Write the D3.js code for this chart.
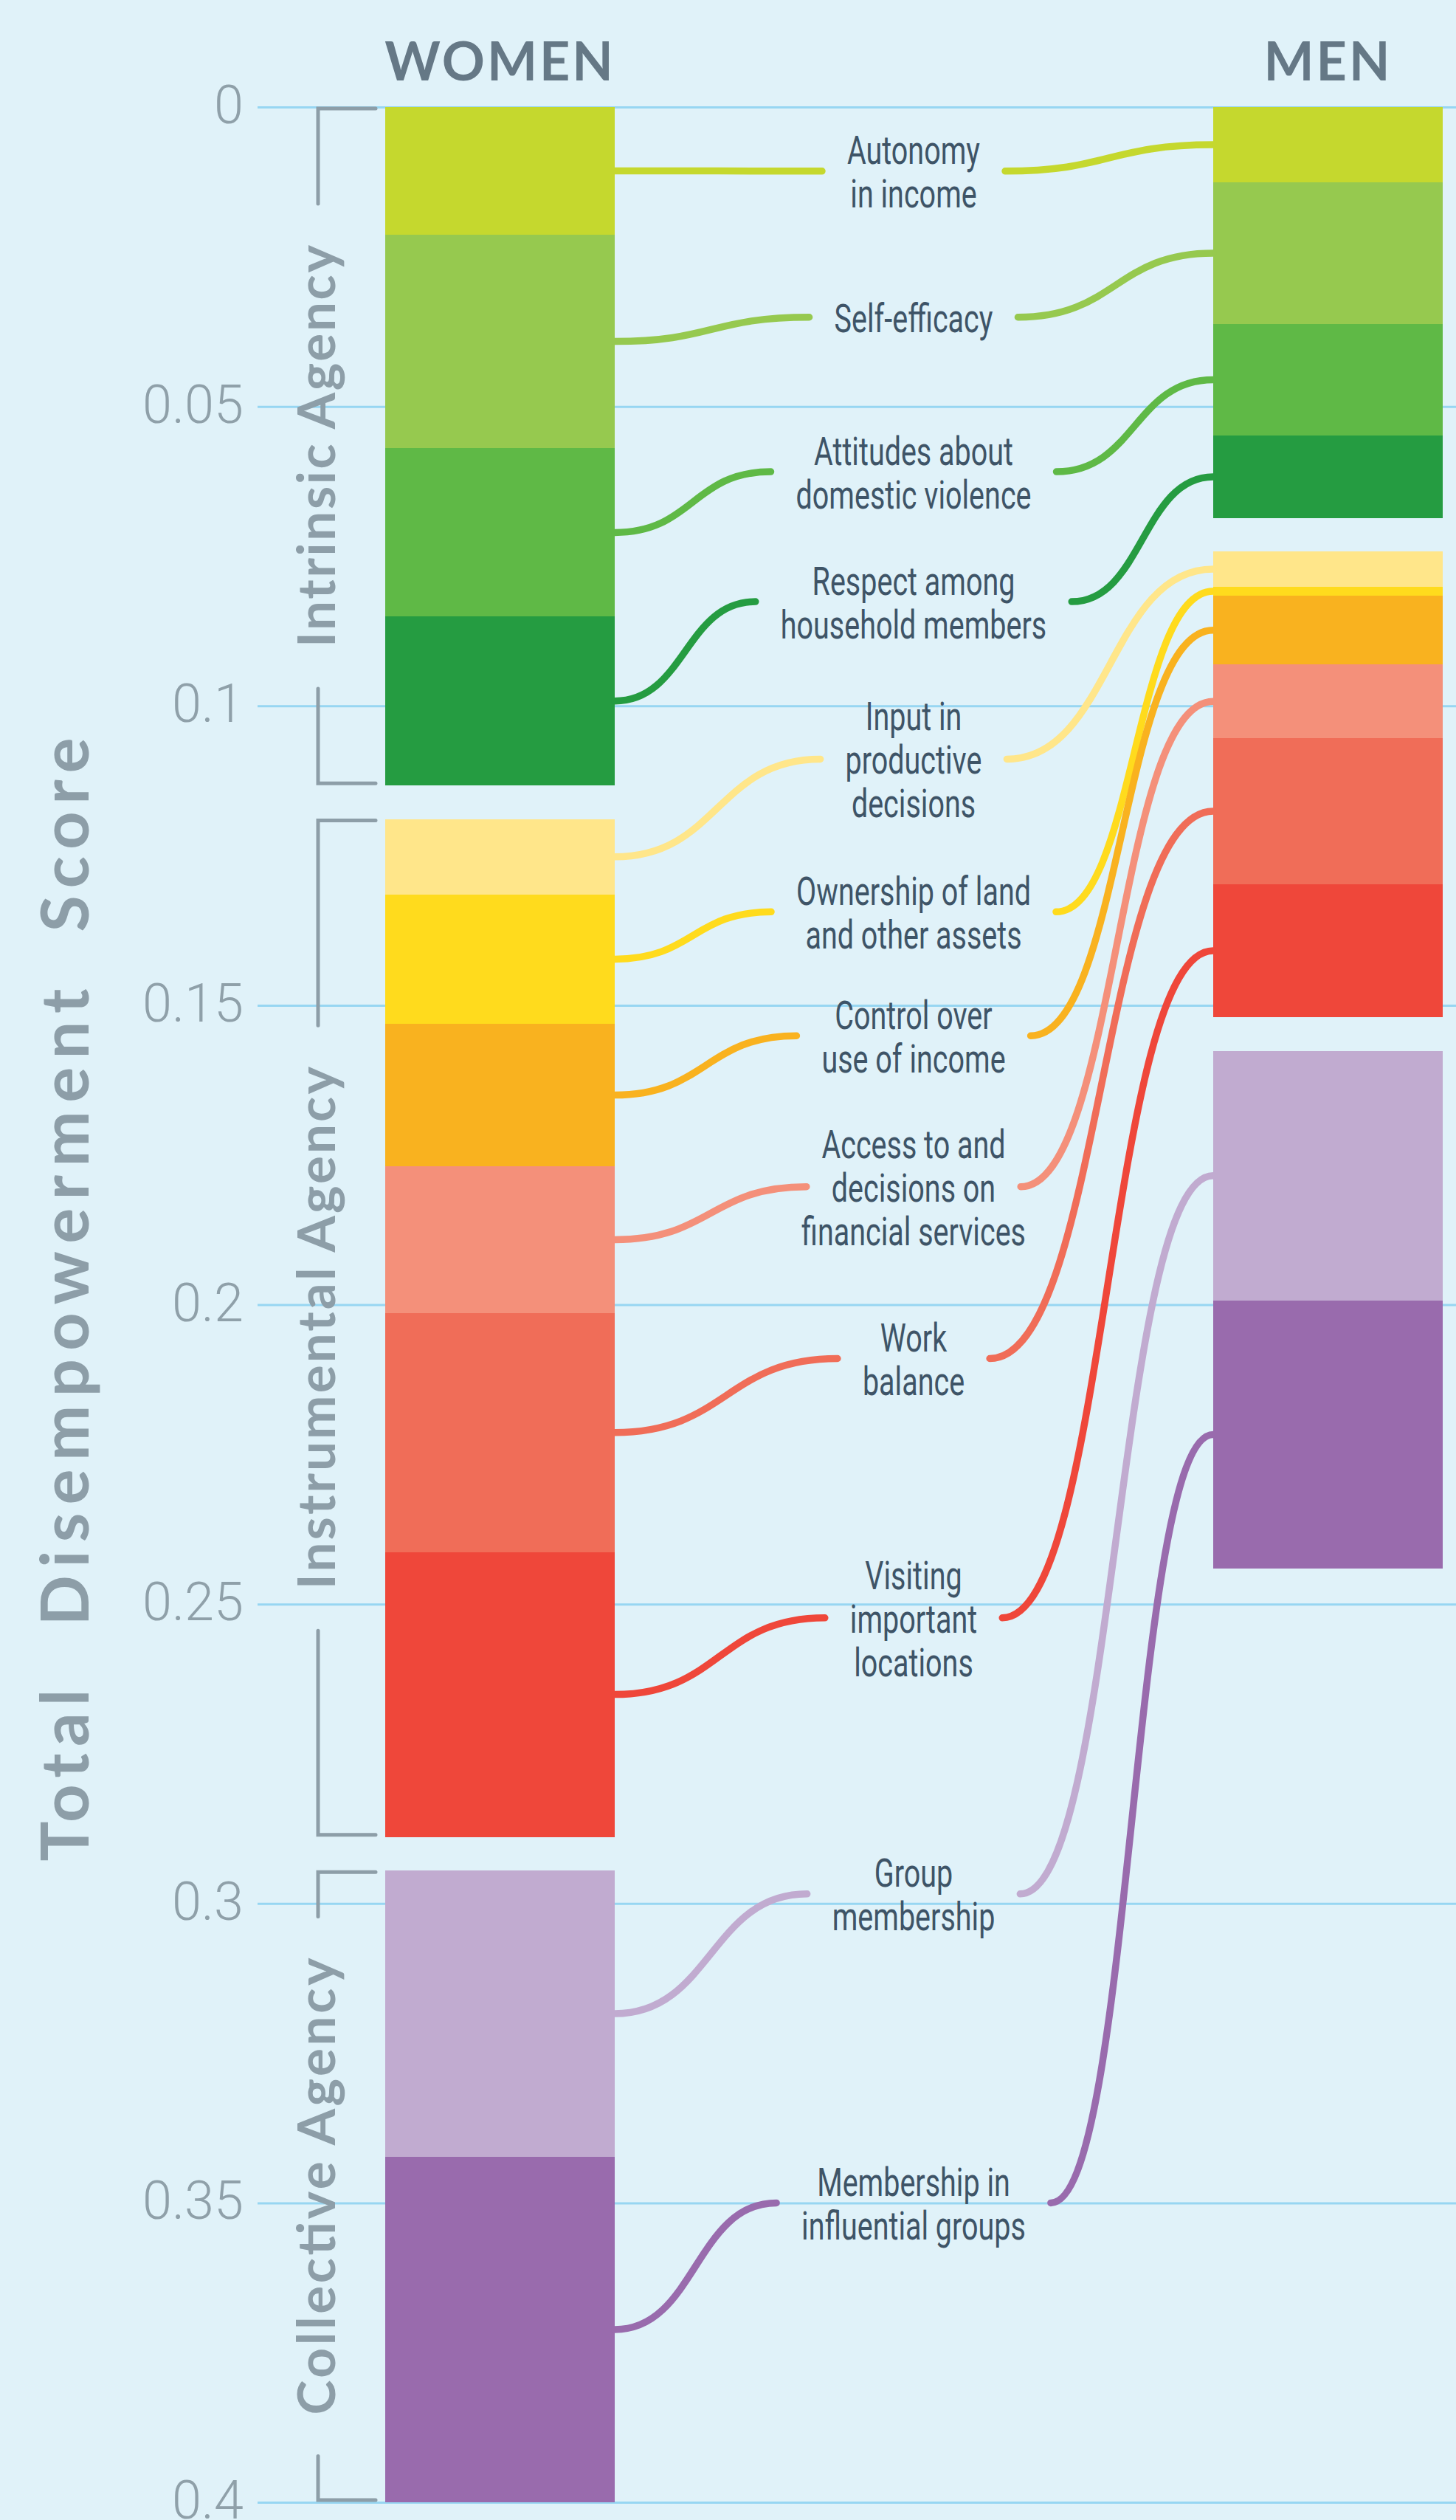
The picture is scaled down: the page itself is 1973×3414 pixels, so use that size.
<!DOCTYPE html>
<html><head><meta charset="utf-8">
<script src="https://cdn.jsdelivr.net/npm/d3@7"></script>
<style>
html,body{margin:0;padding:0;background:#e0f2f9;}
svg{display:block;}
</style></head><body>
<svg id="chart" width="1973" height="3414"></svg>
<script>
// ---------- data ----------
const sexes = ["WOMEN", "MEN"];
const groups = ["Intrinsic Agency", "Instrumental Agency", "Collective Agency"];
const indicators = [
  "Autonomy in income", "Self-efficacy", "Attitudes about domestic violence", "Respect among household members",
  "Input in productive decisions", "Ownership of land and other assets", "Control over use of income",
  "Access to and decisions on financial services", "Work balance", "Visiting important locations",
  "Group membership", "Membership in influential groups"
];
const indicatorGroup = [
  "Intrinsic Agency", "Intrinsic Agency", "Intrinsic Agency", "Intrinsic Agency",
  "Instrumental Agency", "Instrumental Agency", "Instrumental Agency", "Instrumental Agency", "Instrumental Agency", "Instrumental Agency",
  "Collective Agency", "Collective Agency"
];
const labelLines = [
  ["Autonomy", "in income"], ["Self-efficacy"], ["Attitudes about", "domestic violence"], ["Respect among", "household members"],
  ["Input in", "productive", "decisions"], ["Ownership of land", "and other assets"], ["Control over", "use of income"],
  ["Access to and", "decisions on", "financial services"], ["Work", "balance"], ["Visiting", "important", "locations"],
  ["Group", "membership"], ["Membership in", "influential groups"]
];
const womenValues = [0.0213, 0.0357, 0.0281, 0.0282, 0.0126, 0.0216, 0.0238, 0.0245, 0.0399, 0.0476, 0.0478, 0.0577];
const menValues   = [0.0126, 0.0236, 0.0187, 0.0137, 0.0059, 0.0015, 0.0115, 0.0123, 0.0244, 0.0222, 0.0417, 0.0448];
// where each indicator's label sits on the score axis
const labelAt = [0.0107, 0.0351, 0.0609, 0.0826, 0.1089, 0.1344, 0.1551, 0.1803, 0.2090, 0.2523, 0.2984, 0.3500];
const yTicks = [0, 0.05, 0.1, 0.15, 0.2, 0.25, 0.3, 0.35, 0.4];
const yTickLabels = ["0", "0.05", "0.1", "0.15", "0.2", "0.25", "0.3", "0.35", "0.4"];
const axisTitleWords = ["Total", "Disempowerment", "Score"];
const colors = ["#c5d82e", "#96c94f", "#5fb946", "#259c41", "#ffe68a", "#ffdb1d", "#f9b21f",
                "#f4907a", "#f06d58", "#ef473a", "#c1abd0", "#996bad"];
const GROUP_GAP = 0.0056;

// ---------- layout ----------
const W = 1973, H = 3414;
const svg = d3.select("#chart");
svg.append("rect").attr("width", W).attr("height", H).attr("fill", "#e0f2f9");

const y = d3.scaleLinear().domain([0, 0.4]).range([145, 3390]);
const x = d3.scaleBand().domain(sexes).range([522, 1955]).paddingInner(811 / 1122).paddingOuter(0);
const labelX = 1238;

function stack(vals) {
  let acc = 0;
  return vals.map((v, i) => {
    if (i > 0 && indicatorGroup[i] !== indicatorGroup[i - 1]) acc += GROUP_GAP;
    const seg = { i, y0: acc, y1: acc + v };
    acc += v;
    return seg;
  });
}
const stacks = { WOMEN: stack(womenValues), MEN: stack(menValues) };

// ---------- axis / grid ----------
const gridLeft = 349;
const axis = d3.axisLeft(y).tickValues(yTicks)
  .tickFormat((d, i) => yTickLabels[i])
  .tickSize(-(W - gridLeft)).tickPadding(19);
const gA = svg.append("g").attr("transform", `translate(${gridLeft},0)`).call(axis);
gA.select(".domain").remove();
gA.attr("font-family", "Roboto, 'Open Sans', sans-serif").attr("font-size", 72);
gA.selectAll(".tick line").attr("stroke", "#97d6f2").attr("stroke-width", 3);
gA.selectAll(".tick text").attr("fill", "#8fa0a9").attr("font-weight", 300).attr("dy", "0.3em");

// ---------- titles ----------
svg.selectAll("text.sex").data(sexes).enter().append("text")
  .attr("class", "sex")
  .attr("x", d => x(d) + x.bandwidth() / 2)
  .attr("y", 109)
  .attr("text-anchor", "middle")
  .attr("font-family", "Lato, 'Open Sans', sans-serif")
  .attr("font-weight", 700)
  .attr("font-size", 72)
  .attr("letter-spacing", 3)
  .attr("fill", "#657886")
  .text(d => d);

// y axis title (rotated)
const titleCenters = [2405, 1771, 1131];
const titleLengths = [233, 863, 263];
axisTitleWords.forEach((w, i) => {
  svg.append("text")
    .attr("transform", `translate(120,${titleCenters[i]}) rotate(-90)`)
    .attr("text-anchor", "middle")
    .attr("font-family", "Lato, 'Open Sans', sans-serif")
    .attr("font-weight", 700)
    .attr("font-size", 90)
    .attr("fill", "#8d9ea8")
    .attr("textLength", titleLengths[i])
    .attr("lengthAdjust", "spacing")
    .text(w);
});

// ---------- group brackets & labels ----------
const groupLabelLen = { "Intrinsic Agency": 545, "Instrumental Agency": 708, "Collective Agency": 619 };
const bracketX = 431, bracketTick = 509, bracketGap = 56;
groups.forEach(g => {
  const segs = stacks.WOMEN.filter(s => indicatorGroup[s.i] === g);
  const top = y(segs[0].y0) + 2, bot = y(segs[segs.length - 1].y1) - 3;
  const cy = (y(segs[0].y0) + y(segs[segs.length - 1].y1)) / 2;
  const L = groupLabelLen[g];
  svg.append("path")
    .attr("d", `M${bracketTick},${top}H${bracketX}V${cy - L / 2 - bracketGap}M${bracketX},${cy + L / 2 + bracketGap}V${bot}H${bracketTick}`)
    .attr("fill", "none").attr("stroke", "#8d9ea8").attr("stroke-width", 5)
    .attr("stroke-linecap", "round").attr("stroke-linejoin", "miter");
  svg.append("text")
    .attr("transform", `translate(454,${cy}) rotate(-90)`)
    .attr("text-anchor", "middle")
    .attr("font-family", "Lato, 'Open Sans', sans-serif")
    .attr("font-weight", 700)
    .attr("font-size", 71)
    .attr("fill", "#8d9ea8")
    .attr("textLength", L)
    .attr("lengthAdjust", "spacing")
    .text(g);
});

// ---------- bars ----------
sexes.forEach(s => {
  svg.append("g").selectAll("rect").data(stacks[s]).enter().append("rect")
    .attr("x", x(s))
    .attr("width", x.bandwidth())
    .attr("y", d => y(d.y0))
    .attr("height", d => y(d.y1) - y(d.y0))
    .attr("fill", d => colors[d.i])
    .attr("shape-rendering", "crispEdges");
});

// ---------- labels ----------
const labelFontSize = 53, lineStep = 59, baseOff = 20;
const labelG = svg.append("g");
const labelGroups = labelG.selectAll("g").data(indicators).enter().append("g");
labelGroups.each(function (d, i) {
  const lines = labelLines[i];
  const n = lines.length;
  const cy = y(labelAt[i]);
  const t = d3.select(this).append("text")
    .attr("text-anchor", "middle")
    .attr("font-family", "'Liberation Sans Narrow', 'Arial Narrow', Roboto, sans-serif")
    .attr("font-size", labelFontSize)
    .attr("fill", "#3e5467");
  lines.forEach((ln, k) => {
    t.append("tspan").attr("x", 0).attr("y", cy + baseOff + (k - (n - 1) / 2) * lineStep).text(ln);
  });
});
// fit condensed width: "financial services" should be ~304px wide
let refW = 304;
let natural = null;
labelGroups.selectAll("tspan").each(function () {
  if (this.textContent === "financial services") natural = this.getComputedTextLength();
});
const sx = natural ? refW / natural : 1;
labelGroups.attr("transform", `translate(${labelX},0) scale(${sx},1)`);

function halfWidth(i) {
  const tspans = labelGroups.filter((d, j) => j === i).selectAll("tspan").nodes();
  const n = tspans.length;
  let w;
  if (n % 2 === 1) w = tspans[(n - 1) / 2].getComputedTextLength();
  else w = Math.max(tspans[n / 2 - 1].getComputedTextLength(), tspans[n / 2].getComputedTextLength());
  return w * sx / 2;
}

// ---------- connectors ----------
const link = d3.linkHorizontal();
const connG = svg.append("g").attr("fill", "none").attr("stroke-width", 9.5).attr("stroke-linecap", "round");
const wRight = x("WOMEN") + x.bandwidth();
const mLeft = x("MEN");
const textGap = 34;
indicators.forEach((name, i) => {
  const hw = halfWidth(i);
  const ly = y(labelAt[i]);
  const wSeg = stacks.WOMEN[i], mSeg = stacks.MEN[i];
  const wy = y((wSeg.y0 + wSeg.y1) / 2), my = y((mSeg.y0 + mSeg.y1) / 2);
  connG.append("path")
    .attr("d", link({ source: [wRight, wy], target: [labelX - hw - textGap, ly] }))
    .attr("stroke", colors[i]);
  connG.append("path")
    .attr("d", link({ source: [labelX + hw + textGap, ly], target: [mLeft, my] }))
    .attr("stroke", colors[i]);
});
</script>
</body></html>
